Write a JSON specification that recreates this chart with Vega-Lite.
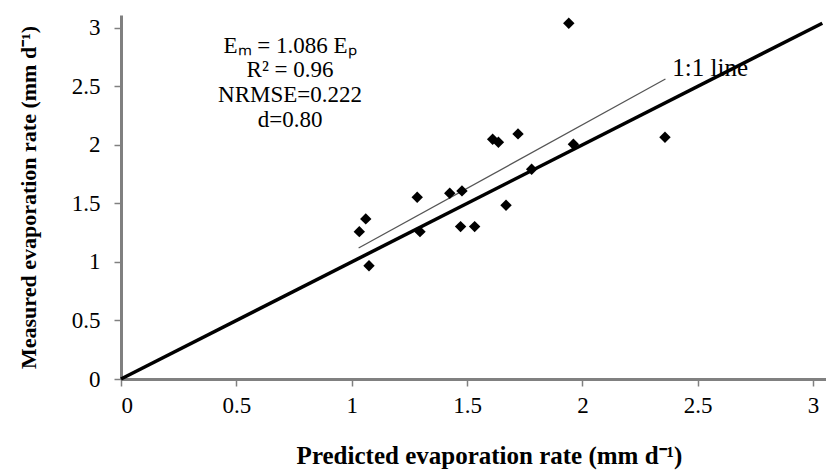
{
  "$schema": "https://vega.github.io/schema/vega-lite/v6.json",
  "width": 705,
  "height": 364,
  "autosize": {"type": "none"},
  "padding": {"left": 121, "top": 15, "right": 0, "bottom": 91},
  "background": "white",
  "config": {
    "view": {"stroke": null},
    "font": "Liberation Serif",
    "axis": {
      "grid": false,
      "domainColor": "#808080",
      "domainWidth": 3,
      "tickColor": "#808080",
      "tickWidth": 1.5,
      "tickSize": 7,
      "labelFont": "Liberation Serif",
      "labelFontSize": 23,
      "labelColor": "#000000",
      "titleFont": "Liberation Serif",
      "titleFontSize": 25,
      "titleFontWeight": "bold",
      "titleColor": "#000000"
    }
  },
  "datasets": {
    "points": [
      {"predicted": 1.033, "measured": 1.259},
      {"predicted": 1.061, "measured": 1.368},
      {"predicted": 1.075, "measured": 0.968},
      {"predicted": 1.284, "measured": 1.553},
      {"predicted": 1.296, "measured": 1.259},
      {"predicted": 1.425, "measured": 1.587},
      {"predicted": 1.478, "measured": 1.607},
      {"predicted": 1.472, "measured": 1.302},
      {"predicted": 1.533, "measured": 1.302},
      {"predicted": 1.669, "measured": 1.484},
      {"predicted": 1.611, "measured": 2.048},
      {"predicted": 1.636, "measured": 2.023},
      {"predicted": 1.721, "measured": 2.094},
      {"predicted": 1.780, "measured": 1.792},
      {"predicted": 1.961, "measured": 2.006},
      {"predicted": 2.358, "measured": 2.066},
      {"predicted": 1.941, "measured": 3.040}
    ],
    "oneToOne": [
      {"predicted": 0, "measured": 0},
      {"predicted": 3.04, "measured": 3.04}
    ],
    "fit": [
      {"predicted": 1.03, "measured": 1.119},
      {"predicted": 2.36, "measured": 2.563}
    ],
    "stats": [
      {"predicted": 0.733, "measured": 2.846, "label": "Eₘ = 1.086 Eₚ"},
      {"predicted": 0.733, "measured": 2.64, "label": "R² = 0.96"},
      {"predicted": 0.733, "measured": 2.427, "label": "NRMSE=0.222"},
      {"predicted": 0.733, "measured": 2.21, "label": "d=0.80"}
    ],
    "lineLabel": [
      {"predicted": 2.39, "measured": 2.66, "label": "1:1 line"}
    ]
  },
  "encoding": {
    "x": {
      "field": "predicted",
      "type": "quantitative",
      "scale": {"domain": [0, 3.056], "nice": false, "zero": true},
      "axis": {
        "values": [0, 0.5, 1, 1.5, 2, 2.5, 3],
        "format": "~g",
        "labelPadding": 8,
        "title": "Predicted evaporation rate (mm d⁻¹)",
        "titlePadding": 26,
        "titleX": 368
      }
    },
    "y": {
      "field": "measured",
      "type": "quantitative",
      "scale": {"domain": [0, 3.11], "nice": false, "zero": true},
      "axis": {
        "values": [0, 0.5, 1, 1.5, 2, 2.5, 3],
        "format": "~g",
        "labelPadding": 14,
        "title": "Measured evaporation rate (mm d⁻¹)",
        "titlePadding": 31,
        "titleFontSize": 22
      }
    }
  },
  "layer": [
    {
      "data": {"name": "oneToOne"},
      "mark": {"type": "line", "color": "#000000", "strokeWidth": 3.5}
    },
    {
      "data": {"name": "fit"},
      "mark": {"type": "line", "color": "#555555", "strokeWidth": 1.3}
    },
    {
      "data": {"name": "points"},
      "mark": {"type": "point", "shape": "diamond", "filled": true, "color": "#000000", "opacity": 1, "size": 130}
    },
    {
      "data": {"name": "stats"},
      "mark": {"type": "text", "fontSize": 23, "align": "center", "baseline": "middle", "color": "#000000"},
      "encoding": {"text": {"field": "label"}}
    },
    {
      "data": {"name": "lineLabel"},
      "mark": {"type": "text", "fontSize": 25, "align": "left", "baseline": "middle", "color": "#000000"},
      "encoding": {"text": {"field": "label"}}
    }
  ]
}
